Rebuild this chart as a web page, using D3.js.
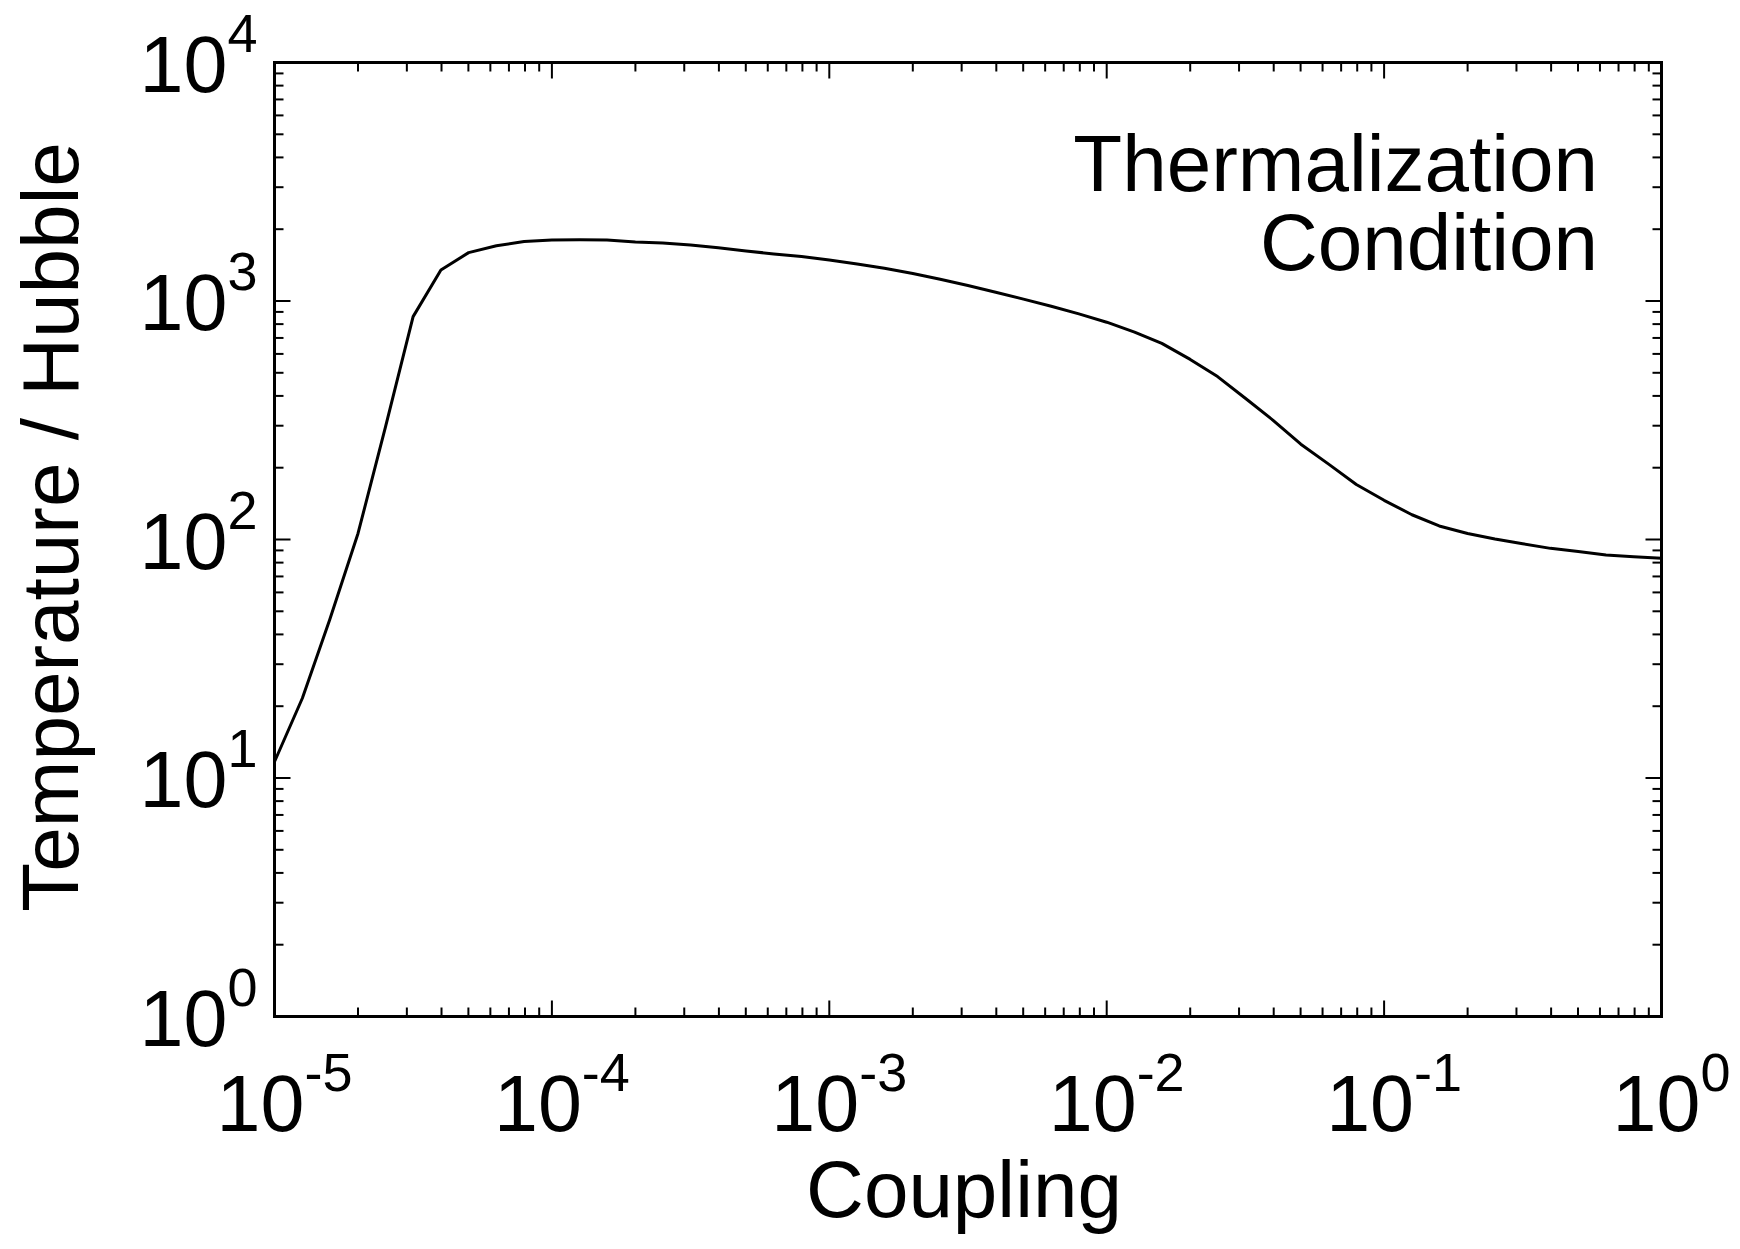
<!DOCTYPE html>
<html>
<head>
<meta charset="utf-8">
<script src="https://cdn.jsdelivr.net/npm/d3@7"></script>
<style>
  html, body { margin: 0; padding: 0; background: #fff; }
  svg { display: block; font-family: "Liberation Sans", Arial, Helvetica, sans-serif; }
</style>
</head>
<body>
<svg id="chart" width="1740" height="1249"></svg>
<script>
// ---- data ----
const coupling = [
  1e-5, 1.26e-5, 1.58e-5, 2e-5, 2.51e-5, 3.16e-5, 3.98e-5, 5.01e-5, 6.31e-5, 7.94e-5,
  1e-4, 1.26e-4, 1.58e-4, 2e-4, 2.51e-4, 3.16e-4, 3.98e-4, 5.01e-4, 6.31e-4, 7.94e-4,
  1e-3, 1.26e-3, 1.58e-3, 2e-3, 2.51e-3, 3.16e-3, 3.98e-3, 5.01e-3, 6.31e-3, 7.94e-3,
  1e-2, 1.26e-2, 1.58e-2, 2e-2, 2.51e-2, 3.16e-2, 3.98e-2, 5.01e-2, 6.31e-2, 7.94e-2,
  1e-1, 0.126, 0.158, 0.2, 0.251, 0.316, 0.398, 0.501, 0.631, 0.794,
  1
];
const tempOverHubble = [
  11.7, 21.6, 46, 106, 295, 860, 1350, 1595, 1706, 1775,
  1803, 1805, 1800, 1767, 1752, 1718, 1672, 1622, 1575, 1535,
  1486, 1430, 1371, 1303, 1233, 1161, 1089, 1018, 951, 883,
  815, 741, 664, 569, 482, 391, 316, 251, 207, 170,
  146, 127, 114, 106, 100.5, 96, 91.8, 89.1, 86.1, 84.7,
  83.4
];
const xTickValues = [1e-5, 1e-4, 1e-3, 1e-2, 1e-1, 1];
const xTickExponents = ["-5", "-4", "-3", "-2", "-1", "0"];
const yTickValues = [1, 10, 100, 1000, 10000];
const yTickExponents = ["0", "1", "2", "3", "4"];
const xTitle = "Coupling";
const yTitle = "Temperature / Hubble";
const annotation = ["Thermalization", "Condition"];

// ---- layout ----
const L = 274.5, R = 1661.5, T = 62.5, B = 1016.5;
const svg = d3.select("#chart");

const x = d3.scaleLog().domain([1e-5, 1]).range([L, R]);
const y = d3.scaleLog().domain([1, 1e4]).range([B, T]);

const isMajor = v => Math.abs(Math.log10(v) - Math.round(Math.log10(v))) < 1e-9;
const majorLen = 16, minorLen = 9;

const tickG = svg.append("g").attr("stroke", "#000").attr("stroke-width", 2);
// x ticks bottom & top (inward)
x.ticks().forEach(v => {
  const len = isMajor(v) ? majorLen : minorLen;
  const px = x(v);
  tickG.append("line").attr("x1", px).attr("x2", px).attr("y1", B).attr("y2", B - len);
  tickG.append("line").attr("x1", px).attr("x2", px).attr("y1", T).attr("y2", T + len);
});
// y ticks left & right (inward)
y.ticks().forEach(v => {
  const len = isMajor(v) ? majorLen : minorLen;
  const py = y(v);
  tickG.append("line").attr("y1", py).attr("y2", py).attr("x1", L).attr("x2", L + len);
  tickG.append("line").attr("y1", py).attr("y2", py).attr("x1", R).attr("x2", R - len);
});

// curve
const line = d3.line()
  .x((d, i) => x(coupling[i]))
  .y(d => y(d));
svg.append("path")
  .datum(tempOverHubble)
  .attr("d", line)
  .attr("fill", "none")
  .attr("stroke", "#000")
  .attr("stroke-width", 3)
  .attr("stroke-linejoin", "round");

// frame
svg.append("rect")
  .attr("x", L).attr("y", T).attr("width", R - L).attr("height", B - T)
  .attr("fill", "none").attr("stroke", "#000").attr("stroke-width", 3);

// x tick labels
const mainSize = 79, supSize = 54;
xTickValues.forEach((v, i) => {
  const t = svg.append("text")
    .attr("x", x(v) + 10).attr("y", B + 114)
    .attr("text-anchor", "middle")
    .attr("font-size", mainSize).attr("fill", "#000");
  t.append("tspan").text("10");
  t.append("tspan").attr("font-size", supSize).attr("dy", -40).text(xTickExponents[i]);
});

// y tick labels
yTickValues.forEach((v, i) => {
  const t = svg.append("text")
    .attr("x", L - 17).attr("y", y(v) + 29)
    .attr("text-anchor", "end")
    .attr("font-size", mainSize).attr("fill", "#000");
  t.append("tspan").text("10");
  t.append("tspan").attr("font-size", supSize).attr("dy", -40).text(yTickExponents[i]);
});

// axis titles
svg.append("text")
  .attr("x", (L + R) / 2 - 4).attr("y", 1217)
  .attr("text-anchor", "middle")
  .attr("font-size", 80).attr("fill", "#000")
  .text(xTitle);

svg.append("text")
  .attr("transform", `translate(78, ${527}) rotate(-90)`)
  .attr("text-anchor", "middle")
  .attr("font-size", 80).attr("fill", "#000")
  .text(yTitle);

// annotation (two right-aligned lines)
const ann = svg.append("text")
  .attr("text-anchor", "end")
  .attr("font-size", 80).attr("fill", "#000");
ann.append("tspan").attr("x", 1598).attr("y", 191).text(annotation[0]);
ann.append("tspan").attr("x", 1598).attr("y", 270).text(annotation[1]);
</script>
</body>
</html>
